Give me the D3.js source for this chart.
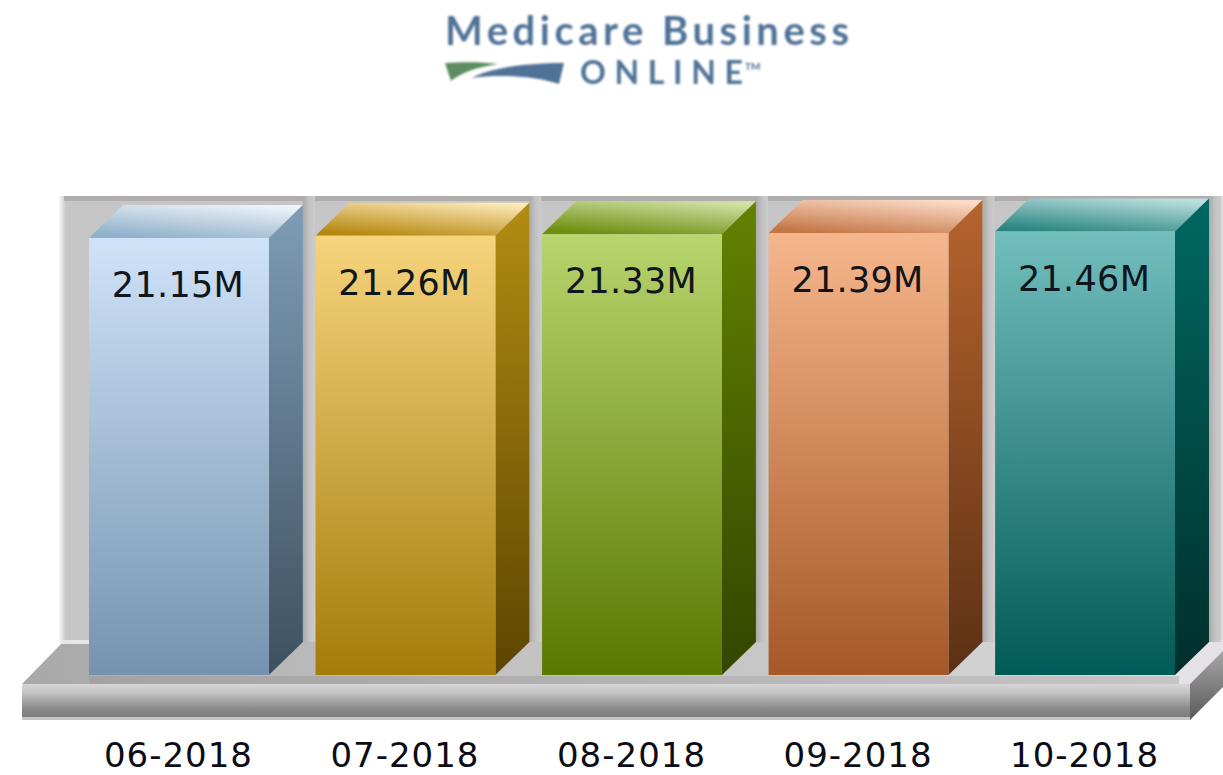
<!DOCTYPE html>
<html>
	<head>
		<meta charset="utf-8">
		<script src="https://d3js.org/d3.v7.min.js"></script>
		<style>
			html, body {
				margin: 0;
				padding: 0;
				background: #fff;
			}
			svg {
				display: block;
			}
		</style>
	</head>
	<body>
		<script type="text/javascript">
			var months = ['06-2018', '07-2018', '08-2018', '09-2018', '10-2018'];
			var members = [21.15, 21.26, 21.33, 21.39, 21.46];
			var valueLabels = ['21.15M', '21.26M', '21.33M', '21.39M', '21.46M'];

			// front top, front bottom, side top, side bottom, cap back, cap front
			var shades = [
				['#cfe3f8', '#7593af', '#7f9db7', '#3d5060', '#edf3f9', '#8fb0ca'],
				['#f6d47c', '#a57b0a', '#b38c12', '#5c4500', '#fde9b6', '#b5870e'],
				['#b8d56e', '#587800', '#638200', '#324600', '#d2e2a6', '#6c8d0e'],
				['#f6b68c', '#a65826', '#b7642e', '#5c3014', '#fcdcc9', '#c57645'],
				['#72bebe', '#005a56', '#006862', '#002f2d', '#bbe0e0', '#2a8581']
			];

			var width = 1223,
				height = 775,
				depthX = 34,
				depthY = 33,
				baseY = 675;

			var svg = d3.select('body').append('svg')
				.attr('width', width)
				.attr('height', height);
			var defs = svg.append('defs');

			function gradient(id, stops, horizontal) {
				var g = defs.append('linearGradient')
					.attr('id', id)
					.attr('x1', 0).attr('y1', 0)
					.attr('x2', horizontal ? 1 : 0)
					.attr('y2', horizontal ? 0 : 1);
				stops.forEach(function (c, i) {
					g.append('stop')
						.attr('offset', i / (stops.length - 1))
						.attr('stop-color', c);
				});
				return g;
			}

			defs.append('filter').attr('id', 'soft')
				.append('feGaussianBlur').attr('stdDeviation', 0.8);

			gradient('floorTop', ['#a8a8a8', '#c0c0c0', '#c8c8c8', '#dedede'], true);
			gradient('floorBand', ['#a4a2a2', '#b4b2b2', '#c6c4c6'], true);
			gradient('floorFront', ['#d6d6d6', '#c4c4c4', '#a8a8a8', '#8a8a8a', '#7c7c7c'], false);
			gradient('floorSide', ['#a6a6a6', '#5a5a5a'], false);
			gradient('wallEdge', ['#ffffff', '#c6c6c6'], true);
			gradient('gap', ['#aaaaaa', '#c2c2c2', '#cccccc'], true);
			shades.forEach(function (s, i) {
				gradient('front' + i, [s[0], s[1]], false);
				gradient('side' + i, [s[2], s[3]], false);
				// caps get lighter towards the back right corner
				gradient('cap' + i, [s[5], s[4]], false)
					.attr('x1', 0.25).attr('y1', 1)
					.attr('x2', 0.8).attr('y2', 0);
			});

			var x = d3.scaleBand()
				.domain(months)
				.range([89, 1175])
				.paddingInner(0.206)
				.paddingOuter(0);

			var y = d3.scaleLinear()
				.domain([0, 22])
				.range([baseY, baseY - 454.6]);

			// Back wall and floor
			svg.append('rect')
				.attr('x', 58).attr('y', 196)
				.attr('width', 8).attr('height', 446)
				.attr('fill', 'url(#wallEdge)');
			svg.append('rect')
				.attr('x', 66).attr('y', 196)
				.attr('width', 1157).attr('height', 446)
				.attr('fill', '#c6c6c6');
			svg.append('rect')
				.attr('x', 64).attr('y', 196)
				.attr('width', 1159).attr('height', 5)
				.attr('fill', '#b0aeac');
			svg.append('rect')
				.attr('x', 1210).attr('y', 196)
				.attr('width', 13).attr('height', 446)
				.attr('fill', '#dcdcdc');

			var floorPts = [[22, 684], [63, 642], [1223, 642], [1223, 651], [1190, 684]];
			svg.append('polygon')
				.attr('points', floorPts.join(' '))
				.attr('fill', 'url(#floorTop)');
			svg.append('polygon')
				.attr('points', [[63, 640], [89, 640], [89, 644], [60, 644]].join(' '))
				.attr('fill', '#e6e6e6');
			svg.append('polygon')
				.attr('points', [[1175, 675], [1210, 640], [1223, 640], [1223, 651], [1190, 684], [1175, 684]].join(' '))
				.attr('fill', '#e4e2e4');
			svg.append('rect')
				.attr('x', 89).attr('y', 676)
				.attr('width', 1090).attr('height', 8)
				.attr('fill', 'url(#floorBand)');
			svg.append('rect')
				.attr('x', 22).attr('y', 684)
				.attr('width', 1168).attr('height', 33)
				.attr('fill', 'url(#floorFront)');
			svg.append('rect')
				.attr('x', 22).attr('y', 717)
				.attr('width', 1168).attr('height', 3)
				.attr('fill', '#c4c4c4');
			svg.append('polygon')
				.attr('points', [[1190, 684], [1223, 651], [1223, 687], [1190, 720]].join(' '))
				.attr('fill', 'url(#floorSide)');

			// Bars
			var bars = svg.selectAll('g.bar')
				.data(members)
				.enter()
				.append('g')
				.attr('class', 'bar');

			function left(d, i) { return x(months[i]); }
			function right(d, i) { return x(months[i]) + x.bandwidth(); }

			bars.append('rect')
				.attr('x', function (d, i) { return right(d, i) + depthX; })
				.attr('y', 196)
				.attr('width', 12)
				.attr('height', 446)
				.attr('fill', 'url(#gap)');

			bars.append('polygon')
				.attr('points', function (d, i) {
					return [
						[left(d, i), y(d)],
						[right(d, i), y(d)],
						[right(d, i) + depthX, y(d) - depthY],
						[left(d, i) + depthX, y(d) - depthY]
					].join(' ');
				})
				.attr('fill', function (d, i) { return 'url(#cap' + i + ')'; });

			bars.append('polygon')
				.attr('points', function (d, i) {
					return [
						[right(d, i), y(d)],
						[right(d, i) + depthX, y(d) - depthY],
						[right(d, i) + depthX, y(0) - depthY],
						[right(d, i), y(0)]
					].join(' ');
				})
				.attr('fill', function (d, i) { return 'url(#side' + i + ')'; });

			bars.append('rect')
				.attr('x', left)
				.attr('y', function (d) { return y(d); })
				.attr('width', x.bandwidth())
				.attr('height', function (d) { return y(0) - y(d); })
				.attr('fill', function (d, i) { return 'url(#front' + i + ')'; });

			bars.append('text')
				.attr('x', function (d, i) { return left(d, i) + x.bandwidth() / 2 - 1; })
				.attr('y', function (d) { return y(d) + 59; })
				.attr('text-anchor', 'middle')
				.style('font-family', 'DejaVu Sans')
				.style('font-size', '35px')
				.style('letter-spacing', '0.3px')
				.style('fill', '#10161c')
				.text(function (d, i) { return valueLabels[i]; });

			// Month labels under the floor
			svg.append('g')
				.selectAll('text')
				.data(months)
				.enter()
				.append('text')
				.attr('x', function (d) { return x(d) + x.bandwidth() / 2 - 0.5; })
				.attr('y', 766.5)
				.attr('text-anchor', 'middle')
				.style('font-family', 'DejaVu Sans')
				.style('font-size', '34px')
				.style('letter-spacing', '1px')
				.style('fill', '#0c0c14')
				.text(function (d) { return d; });

			// Logo
			var logo = svg.append('g').attr('filter', 'url(#soft)');
			logo.append('text')
				.attr('x', 445)
				.attr('y', 44.5)
				.attr('textLength', 404)
				.style('font-family', 'Lato')
				.style('font-weight', 700)
				.style('font-size', '40px')
				.style('fill', '#507297')
				.text('Medicare Business');
			logo.append('text')
				.attr('x', 580)
				.attr('y', 83.5)
				.attr('textLength', 163)
				.style('font-family', 'Lato')
				.style('font-weight', 700)
				.style('font-size', '32px')
				.style('fill', '#507297')
				.text('ONLINE');
			logo.append('text')
				.attr('x', 745)
				.attr('y', 70)
				.style('font-family', 'Lato')
				.style('font-weight', 700)
				.style('font-size', '10px')
				.style('fill', '#507297')
				.text('TM');
			logo.append('path')
				.attr('d', 'M445,63 C465,62 482,62 498,64 C478,67 462,72 451,81 Z')
				.attr('fill', '#5c8c5e');
			logo.append('path')
				.attr('d', 'M472,78 C490,68 525,63 564,63 L559,84 C535,76 500,74 472,78 Z')
				.attr('fill', '#507297');
		</script>
	</body>
</html>
